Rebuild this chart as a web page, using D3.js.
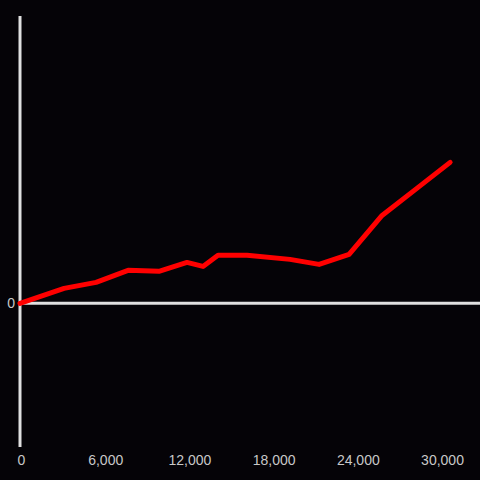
<!DOCTYPE html>
<html>
<head>
<meta charset="utf-8">
<script src="https://cdn.jsdelivr.net/npm/d3@7"></script>
<style>
  body { margin: 0; background: #050307; }
  svg { display: block; }
</style>
</head>
<body>
<div id="chart"></div>
<script>
const width = 480;
const height = 480;

// data
const xValues = [0, 3140, 5420, 7700, 9900, 11900, 13040, 14110, 16180, 19240, 21310, 23450, 25800, 28370, 30650];
const yValues = [0, 0.104, 0.146, 0.23, 0.223, 0.285, 0.257, 0.334, 0.334, 0.306, 0.271, 0.341, 0.612, 0.807, 0.981];
const xTicks = [0, 6000, 12000, 18000, 24000, 30000];
const yTicks = [0];

const svg = d3.select("#chart")
    .append("svg")
    .attr("width", width)
    .attr("height", height);

svg.append("rect")
    .attr("width", width)
    .attr("height", height)
    .attr("fill", "#050307");

const x = d3.scaleLinear().domain([0, 30000]).range([20, 441]);
const y = d3.scaleLinear().domain([-1, 2]).range([447, 16]);

// y axis line
svg.append("line")
    .attr("x1", x(0)).attr("x2", x(0))
    .attr("y1", y(-1)).attr("y2", y(2))
    .attr("stroke", "#e0e0e0")
    .attr("stroke-width", 3);

// x axis line at zero
svg.append("line")
    .attr("x1", x(0)).attr("x2", width)
    .attr("y1", y(0)).attr("y2", y(0))
    .attr("stroke", "#e0e0e0")
    .attr("stroke-width", 3);

// x tick labels along the bottom
const xAxis = svg.append("g")
    .attr("transform", `translate(1,${452})`)
    .call(d3.axisBottom(x).tickValues(xTicks).tickSize(0).tickPadding(3).tickFormat(d3.format(",")));
xAxis.select(".domain").remove();
xAxis.selectAll("text")
    .attr("fill", "#c8c8c8")
    .style("font-family", "Liberation Sans, Arial, sans-serif")
    .style("font-size", "14px");

// y tick label
const yAxis = svg.append("g")
    .attr("transform", `translate(${x(0) - 2},0)`)
    .call(d3.axisLeft(y).tickValues(yTicks).tickSize(0).tickPadding(3).tickFormat(d3.format("d")));
yAxis.select(".domain").remove();
yAxis.selectAll("text")
    .attr("fill", "#c8c8c8")
    .style("font-family", "Liberation Sans, Arial, sans-serif")
    .style("font-size", "14px");

const line = d3.line()
    .x((d, i) => x(xValues[i]))
    .y(d => y(d));

svg.append("path")
    .datum(yValues)
    .attr("d", line)
    .attr("fill", "none")
    .attr("stroke", "#ff0000")
    .attr("stroke-width", 5)
    .attr("stroke-linejoin", "round")
    .attr("stroke-linecap", "round");
</script>
</body>
</html>
